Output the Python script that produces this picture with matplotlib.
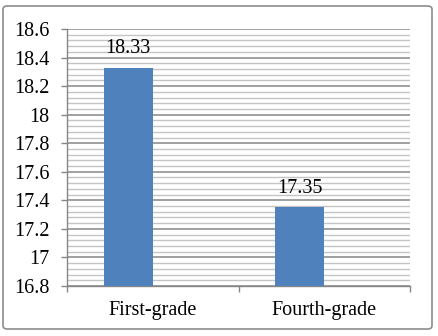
import numpy as np
import matplotlib
matplotlib.use("Agg")
from matplotlib import pyplot as plt
from matplotlib.patches import FancyBboxPatch
from matplotlib.ticker import MultipleLocator, FixedLocator, NullFormatter

categories = ['First-grade', 'Fourth-grade']
values = [18.33, 17.35]
value_labels = ['18.33', '17.35']
y_ticks = [16.8, 17.0, 17.2, 17.4, 17.6, 17.8, 18.0, 18.2, 18.4, 18.6]
y_tick_labels = ['16.8', '17', '17.2', '17.4', '17.6', '17.8', '18', '18.2', '18.4', '18.6']

plt.rcParams['font.family'] = ['Liberation Serif', 'DejaVu Serif']

W, H = 438, 336
fig = plt.figure(figsize=(W / 100, H / 100), dpi=100)
ax = fig.add_axes([67 / W, 1 - 286 / H, (410 - 67) / W, (286 - 29) / H])

# outer frame
frame = FancyBboxPatch((3 / W, 1 - 329 / H), (432 - 3) / W, (329 - 6) / H,
                       boxstyle="round,pad=0,rounding_size=0.01",
                       transform=fig.transFigure, fill=False,
                       edgecolor='#8c8c8c', linewidth=1.2)
fig.patches.append(frame)

x = np.arange(len(categories))
w = 0.285
# bars sit left of category centre (empty second series in original)
ax.bar(x - w, values, width=w, align='edge', color='#4f81bd', zorder=3)

for xi, v, lab in zip(x, values, value_labels):
    ax.annotate(lab, (xi - w / 2, v), xytext=(0, 14), textcoords='offset points',
                ha='center', va='center', fontsize=14.5, color='black')

ax.set_ylim(16.8, 18.6)
ax.set_xlim(-0.5, 1.5)
ax.set_yticks(y_ticks)
ax.set_yticklabels(y_tick_labels)
ax.yaxis.set_minor_locator(MultipleLocator(0.04))
ax.grid(True, axis='y', which='major', color='#868686', linewidth=1.1, zorder=0)
ax.grid(True, axis='y', which='minor', color='#c4c4c4', linewidth=1.0, zorder=0)
ax.set_axisbelow(True)

ax.xaxis.set_major_locator(FixedLocator([-0.5, 0.5, 1.5]))
ax.xaxis.set_major_formatter(NullFormatter())
ax.xaxis.set_minor_locator(FixedLocator(x))
ax.set_xticklabels(categories, minor=True)
ax.tick_params(axis='x', which='minor', length=0, pad=11, labelsize=14.5)
ax.tick_params(axis='x', which='major', length=4.5, width=1, color='#868686')
ax.tick_params(axis='y', which='major', length=4.5, width=1, color='#868686',
               pad=8, labelsize=14.5)
ax.tick_params(axis='y', which='minor', length=0)

for s in ['top', 'right']:
    ax.spines[s].set_visible(False)
for s in ['left', 'bottom']:
    ax.spines[s].set_color('#868686')
    ax.spines[s].set_linewidth(1)

fig.savefig('out.png', dpi=100)
